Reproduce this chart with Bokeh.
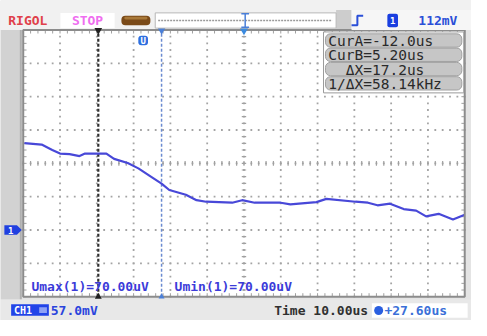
import numpy as np
from bokeh.plotting import figure
from bokeh.models import Range1d
from bokeh.core.properties import value
from bokeh.embed import file_html
from bokeh.resources import INLINE

# ---------------- data ----------------
trace_time_us = [-32.1, -27.4, -24.5, -22.4, -19.8, -17.1, -15.6, -12.5, -9.8, -7.7,
                 -4.0, -1.1, 2.6, 5.2, 7.3, 11.8, 14.7, 17.3, 24.4, 27.1,
                 30.5, 37.6, 40.2, 47.3, 50.0, 57.9, 61.3, 63.9, 67.3, 71.0,
                 74.4, 77.1, 80.5, 84.4, 87.6]
trace_mv = [148.7, 146.1, 137.0, 130.8, 129.8, 126.5, 130.8, 130.8, 130.8, 121.7,
            114.5, 105.4, 90.1, 79.3, 68.4, 60.3, 51.0, 48.4, 46.7, 51.0,
            46.7, 46.7, 44.0, 47.7, 53.3, 48.4, 46.7, 42.3, 45.1, 35.8,
            33.1, 23.3, 27.7, 17.9, 26.1]

time_per_div_us = 10.0
volt_per_div_mv = 57.0
center_time_us = 27.6
trigger_level_mv = 112
cursor_a_us = -12.0
cursor_b_us = 5.2
umax_uv = 70.00
umin_uv = 70.00
n_div_x = 12
n_div_y = 8
divs_above_zero = 6

# ---------------- layout (reference pixel geometry) ----------------
REF_W, REF_H = 487, 336
W, H = 471, 320
GX0, GX1 = 23.5, 480.0     # grid left / right (ref px)
GY0, GY1 = 31.0, 311.0     # grid top / bottom (ref px)
px_per_div_x = (GX1 - GX0) / n_div_x
px_per_div_y = (GY1 - GY0) / n_div_y
zero_py = GY0 + divs_above_zero * px_per_div_y
gcx = (GX0 + GX1) / 2


def t_at(px):
    return center_time_us + (px - gcx) / px_per_div_x * time_per_div_us


def v_at(py):
    return (zero_py - py) / px_per_div_y * volt_per_div_mv


p = figure(width=W, height=H, output_backend="svg", toolbar_location=None,
           x_range=Range1d(t_at(0), t_at(REF_W)),
           y_range=Range1d(v_at(REF_H), v_at(0)),
           x_axis_type=None, y_axis_type=None, min_border=0,
           background_fill_color="#e4e4e4", border_fill_color="#e4e4e4",
           outline_line_color=None)
p.grid.visible = False
p.extra_x_ranges = {"px": Range1d(0, REF_W)}
p.extra_y_ranges = {"py": Range1d(REF_H, 0)}
PX = dict(x_range_name="px", y_range_name="py")
FONT = "DejaVu Sans Mono"


def box(l, r, t, b, fill, line=None, lw=1, radius=0):
    p.quad(left=[l], right=[r], top=[t], bottom=[b], fill_color=fill,
           line_color=line, line_width=lw, border_radius=radius, **PX)


def txt(x, y, s, color, size, bold=False, align="left"):
    p.text(x=[x], y=[y], text=[s], text_font=value(FONT), text_font_size=size,
           text_color=color, text_align=align, text_baseline="middle",
           text_font_style="bold" if bold else "normal", **PX)


# background panels
box(0, REF_W, 0, 31, "#f1f1f1")
box(347, 363, 10, 31, "#cdcdcd")
box(0, 22, 31, 314, "#d2d2d2")
box(20, 22, 31, 314, "#b0b0b0")
box(0, REF_W, 314, REF_H, "#e8e8e8")
box(GX0, GX1, GY0, GY1, "white")

# grid dots (data coordinates: divisions of time and voltage)
t_min, t_max = t_at(GX0), t_at(GX1)
v_min, v_max = v_at(GY1), v_at(GY0)
sub_t = np.arange(0, n_div_x * 5 + 1) * time_per_div_us / 5 + t_min
sub_v = np.arange(0, n_div_y * 5 + 1) * volt_per_div_mv / 5 + v_min
gx, gy = [], []
for k in range(1, n_div_x):
    tl = t_min + k * time_per_div_us
    gx += [tl] * len(sub_v)
    gy += list(sub_v)
for k in range(1, n_div_y):
    vl = v_min + k * volt_per_div_mv
    gx += list(sub_t)
    gy += [vl] * len(sub_t)
p.scatter(gx, gy, marker="square", size=1.8, fill_color="#a4a4a4",
          line_color=None)

# centre-line ticks and edge ticks
tc = center_time_us
vc = (v_min + v_max) / 2
dt = time_per_div_us * 0.06
dv = volt_per_div_mv * 0.07
p.segment(x0=[tc - dt] * len(sub_v), x1=[tc + dt] * len(sub_v), y0=sub_v,
          y1=sub_v, line_color="#a0a0a0", line_width=1.2)
p.segment(x0=sub_t, x1=sub_t, y0=[vc - dv] * len(sub_t),
          y1=[vc + dv] * len(sub_t), line_color="#a0a0a0", line_width=1.2)
p.segment(x0=[t_min] * len(sub_v), x1=[t_min + dt * 1.5] * len(sub_v),
          y0=sub_v, y1=sub_v, line_color="#a0a0a0", line_width=1)
p.segment(x0=[t_max - dt * 1.5] * len(sub_v), x1=[t_max] * len(sub_v),
          y0=sub_v, y1=sub_v, line_color="#a0a0a0", line_width=1)
p.segment(x0=sub_t, x1=sub_t, y0=[v_max] * len(sub_t),
          y1=[v_max - dv * 1.5] * len(sub_t), line_color="#a0a0a0", line_width=1)
p.segment(x0=sub_t, x1=sub_t, y0=[v_min] * len(sub_t),
          y1=[v_min + dv * 1.5] * len(sub_t), line_color="#a0a0a0", line_width=1)

# cursors
p.segment(x0=[cursor_a_us], x1=[cursor_a_us], y0=[v_min], y1=[v_max],
          line_color="#303030", line_width=2.2, line_dash="3 2")
p.segment(x0=[cursor_b_us], x1=[cursor_b_us], y0=[v_min], y1=[v_max],
          line_color="#6a8ad0", line_width=1.5, line_dash="3 2")

# trace
p.line(trace_time_us, trace_mv, line_color="#4848d8", line_width=2.2)

# grid border
p.quad(left=[t_min], right=[t_max], top=[v_max], bottom=[v_min],
       fill_color=None, line_color="#8c8c8c", line_width=2)

# markers on top/bottom edges
p.scatter([cursor_a_us], [v_max], marker="inverted_triangle", size=8,
          fill_color="#202020", line_color=None)
p.scatter([cursor_b_us], [v_max], marker="inverted_triangle", size=8,
          fill_color="#4a7fd8", line_color=None)
p.scatter([center_time_us], [v_max], marker="inverted_triangle", size=9,
          fill_color="#3b8be0", line_color=None)
p.scatter([cursor_a_us], [v_min], marker="triangle", size=7,
          fill_color="#202020", line_color=None)
p.scatter([cursor_b_us], [v_min], marker="triangle", size=6,
          fill_color="#4a7fd8", line_color=None)

# blue badge near top
box(142.5, 152.5, 37, 47, "#2d6fe0", radius=3)
txt(147.5, 42, "U", "white", "9px", bold=True, align="center")

# ground marker for channel 1
p.patch([4, 17, 22, 17, 4], [236, 236, 241, 246, 246], fill_color="#2040e0",
        line_color=None, **PX)
txt(10.5, 241.5, "1", "white", "9px", bold=True, align="center")

# ---------------- top status bar ----------------
txt(8, 21, "RIGOL", "#e0404a", "13px", bold=True)
box(62, 118, 13, 29, "white")
txt(90, 21, "STOP", "#ef6ef0", "13px", bold=True, align="center")
box(125, 155, 16, 26, "#7a4a18", radius=4)
box(128, 152, 17, 20, "#a87838", radius=2)
box(160, 347, 13, 29, "white", line="#b8b8b8")
p.segment(x0=[163], x1=[343], y0=[21], y1=[21], line_color="#9a9a9a",
          line_width=1.5, line_dash="2 1", **PX)
p.segment(x0=[253, 249, 249], x1=[253, 257, 257], y0=[13, 14, 28],
          y1=[28, 14, 28], line_color="#4a7fd8", line_width=1.5, **PX)
box(363, 487, 10, 31, "#f6f6f6")
p.line([363, 369, 369, 375], [26, 26, 16, 16], line_color="#2a4fd8",
       line_width=2, **PX)
box(400, 411, 14, 28, "#1a3fe0", radius=2)
txt(405.5, 21, "1", "white", "9px", bold=True, align="center")
txt(432, 21, f"{trigger_level_mv}mV", "#2a4fd8", "13px", bold=True)

# ---------------- cursor readout ----------------
box(334, 479, 33, 97, "white", line="#9a9a9a")
rows = [
    (339, f"CurA={cursor_a_us:.1f}us"),
    (339, f"CurB={cursor_b_us:.2f}us"),
    (357, f"ΔX={cursor_b_us - cursor_a_us:.1f}us"),
    (339, f"1/ΔX={1000.0 / (cursor_b_us - cursor_a_us):.2f}kHz"),
]
tops = [35, 50, 65, 80]
for tp, (tx, s) in zip(tops, rows):
    box(336, 477, tp, tp + 14, "#c6c6c6", line="#a0a0a0", radius=5)
    txt(tx, tp + 7.5, s, "#2a2a2a", "14.5px")

# ---------------- measurement texts ----------------
txt(32, 300, f"Umax(1)={umax_uv:.2f}uV", "#3b3bd9", "13px", bold=True)
txt(180, 300, f"Umin(1)={umin_uv:.2f}uV", "#3b3bd9", "13px", bold=True)

# ---------------- bottom status bar ----------------
box(11, 50, 319, 331, "#2244e8")
txt(14, 325.5, "CH1", "white", "10px", bold=True)
box(40, 48, 322, 328, "#8fa2f5")
txt(52, 325.5, f"{volt_per_div_mv:.1f}mV", "#2a44dd", "13px", bold=True)
txt(283, 325.5, f"Time {time_per_div_us:.2f}us", "#303030", "13px", bold=True)
box(384, 483, 318, 333, "white")
p.scatter([391], [325.5], marker="circle", size=9, fill_color="#2a5fe0",
          line_color=None, **PX)
txt(397, 325.5, f"+{center_time_us:.2f}us", "#3a6fd8", "13px", bold=True)

open("out.html", "w").write(file_html(p, INLINE))
